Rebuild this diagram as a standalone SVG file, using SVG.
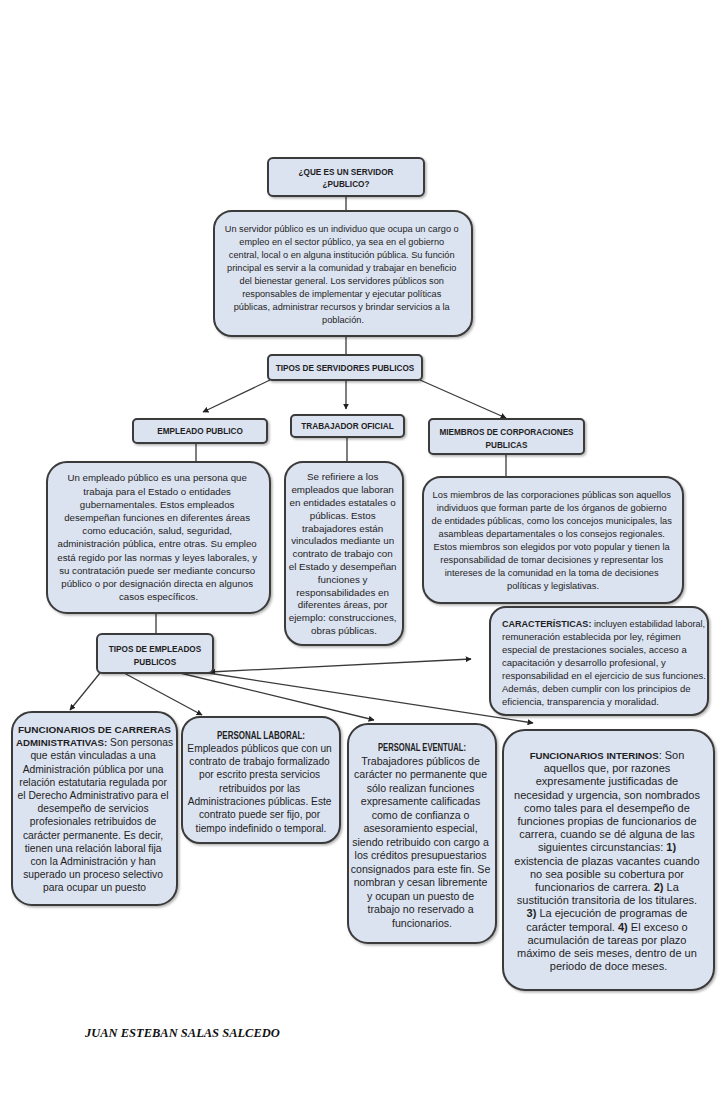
<svg xmlns="http://www.w3.org/2000/svg" width="720" height="1112" viewBox="0 0 720 1112">
<defs>
<style>
.box{fill:#dbe2f0;stroke:#3a3a3a;stroke-width:2;filter:url(#sh)}
.t{font-family:"Liberation Sans",Arial,sans-serif;fill:#1e1e1e;text-anchor:middle}
.l{text-anchor:start}
.b{font-weight:bold}
.h{font-size:8.2px;font-weight:bold}
.c{stroke:#3a3a3a;stroke-width:1.3;fill:none}
.a{marker-end:url(#ah)}
.foot{font-family:"Liberation Serif","Times New Roman",serif;font-weight:bold;font-style:italic;font-size:12.5px;fill:#111}
</style>
<filter id="sh" x="-10%" y="-10%" width="130%" height="130%">
<feDropShadow dx="1.5" dy="1.5" stdDeviation="1" flood-color="#000" flood-opacity="0.3"/>
</filter>
<marker id="ah" viewBox="0 0 10 10" refX="9" refY="5" markerWidth="6" markerHeight="6" markerUnits="userSpaceOnUse" orient="auto">
<path d="M0,0 L10,5 L0,10 z" fill="#222"/>
</marker>
<marker id="as" viewBox="0 0 10 10" refX="1" refY="5" markerWidth="6" markerHeight="6" markerUnits="userSpaceOnUse" orient="auto">
<path d="M10,0 L0,5 L10,10 z" fill="#222"/>
</marker>
</defs>
<rect width="720" height="1112" fill="#ffffff"/>

<g id="connectors">
<line class="c" x1="346" y1="196" x2="346" y2="211"/>
<line class="c" x1="346" y1="336" x2="346" y2="355"/>
<line class="c a" x1="270" y1="380" x2="203" y2="412"/>
<line class="c a" x1="346" y1="380" x2="346" y2="409"/>
<line class="c a" x1="420" y1="380" x2="506" y2="418"/>
<line class="c" x1="196" y1="443" x2="196" y2="462"/>
<line class="c" x1="347" y1="437" x2="347" y2="462"/>
<line class="c" x1="506" y1="454" x2="506" y2="477"/>
<line class="c" x1="156" y1="613" x2="156" y2="634"/>
<line class="c a" x1="100" y1="673" x2="70" y2="710"/>
<line class="c a" x1="124" y1="673" x2="202" y2="715"/>
<line class="c a" x1="180" y1="673" x2="374" y2="720"/>
<line class="c a" x1="210" y1="672" x2="471" y2="659" marker-start="url(#as)"/>
<line class="c a" x1="208" y1="673" x2="533" y2="723"/>
</g>

<g id="n-que-es">
<rect class="box" x="268" y="158" width="156" height="38" rx="5"/>
<text class="t h" x="346" y="175">¿QUE ES UN SERVIDOR</text>
<text class="t h" x="346" y="187">¿PUBLICO?</text>
</g>

<g id="n-definicion">
<rect class="box" x="214" y="211" width="258" height="125" rx="18"/>
<text class="t" font-size="9.2">
<tspan x="343" y="231.5">Un servidor público es un individuo que ocupa un cargo o</tspan>
<tspan x="343" y="244.5">empleo en el sector público, ya sea en el gobierno</tspan>
<tspan x="343" y="257.5">central, local o en alguna institución pública. Su función</tspan>
<tspan x="343" y="270.5">principal es servir a la comunidad y trabajar en beneficio</tspan>
<tspan x="343" y="283.5">del bienestar general. Los servidores públicos son</tspan>
<tspan x="343" y="296.5">responsables de implementar y ejecutar políticas</tspan>
<tspan x="343" y="309.5">públicas, administrar recursos y brindar servicios a la</tspan>
<tspan x="343" y="322.5">población.</tspan>
</text>
</g>

<g id="n-tipos-servidores">
<rect class="box" x="268" y="355" width="154" height="25" rx="4"/>
<text class="t h" x="345" y="370.5" font-size="8">TIPOS DE SERVIDORES PUBLICOS</text>
</g>

<g id="n-empleado">
<rect class="box" x="133" y="419" width="134" height="24" rx="4"/>
<text class="t h" x="200" y="434">EMPLEADO PUBLICO</text>
</g>

<g id="n-trabajador">
<rect class="box" x="291" y="415" width="113" height="22" rx="4"/>
<text class="t h" x="347.5" y="429">TRABAJADOR OFICIAL</text>
</g>

<g id="n-miembros">
<rect class="box" x="429" y="419" width="155" height="35" rx="4"/>
<text class="t h" x="506.5" y="434.5">MIEMBROS DE CORPORACIONES</text>
<text class="t h" x="506.5" y="447.5">PUBLICAS</text>
</g>

<g id="n-empleado-desc">
<rect class="box" x="47" y="462" width="223" height="151" rx="20"/>
<text class="t" font-size="9.7">
<tspan x="158.5" y="481.4">Un empleado público es una persona que</tspan>
<tspan x="158.5" y="494.6">trabaja para el Estado o entidades</tspan>
<tspan x="158.5" y="507.8">gubernamentales. Estos empleados</tspan>
<tspan x="158.5" y="521">desempeñan funciones en diferentes áreas</tspan>
<tspan x="158.5" y="534.2">como educación, salud, seguridad,</tspan>
<tspan x="158.5" y="547.4">administración pública, entre otras. Su empleo</tspan>
<tspan x="158.5" y="560.6">está regido por las normas y leyes laborales, y</tspan>
<tspan x="158.5" y="573.8">su contratación puede ser mediante concurso</tspan>
<tspan x="158.5" y="587">público o por designación directa en algunos</tspan>
<tspan x="158.5" y="600.2">casos específicos.</tspan>
</text>
</g>

<g id="n-trabajador-desc">
<rect class="box" x="285" y="462" width="118" height="183" rx="18"/>
<text class="t" font-size="9.8">
<tspan x="344" y="480.4">Se refiriere a los</tspan>
<tspan x="344" y="493.2">empleados que laboran</tspan>
<tspan x="344" y="506">en entidades estatales o</tspan>
<tspan x="344" y="518.8">públicas. Estos</tspan>
<tspan x="344" y="531.6">trabajadores están</tspan>
<tspan x="344" y="544.4">vinculados mediante un</tspan>
<tspan x="344" y="557.2">contrato de trabajo con</tspan>
<tspan x="344" y="570">el Estado y desempeñan</tspan>
<tspan x="344" y="582.8">funciones y</tspan>
<tspan x="344" y="595.6">responsabilidades en</tspan>
<tspan x="344" y="608.4">diferentes áreas, por</tspan>
<tspan x="344" y="621.2">ejemplo: construcciones,</tspan>
<tspan x="344" y="634">obras públicas.</tspan>
</text>
</g>

<g id="n-miembros-desc">
<rect class="box" x="423" y="477" width="260" height="126" rx="18"/>
<text class="t" font-size="9.3">
<tspan x="553" y="497.8">Los miembros de las corporaciones públicas son aquellos</tspan>
<tspan x="553" y="510.8">individuos que forman parte de los órganos de gobierno</tspan>
<tspan x="553" y="523.8">de entidades públicas, como los concejos municipales, las</tspan>
<tspan x="553" y="536.8">asambleas departamentales o los consejos regionales.</tspan>
<tspan x="553" y="549.8">Estos miembros son elegidos por voto popular y tienen la</tspan>
<tspan x="553" y="562.8">responsabilidad de tomar decisiones y representar los</tspan>
<tspan x="553" y="575.8">intereses de la comunidad en la toma de decisiones</tspan>
<tspan x="553" y="588.8">políticas y legislativas.</tspan>
</text>
</g>

<g id="n-caracteristicas">
<rect class="box" x="490" y="607" width="218" height="108" rx="16"/>
<text class="t l" x="502" y="626.5" font-size="9.5" textLength="203" lengthAdjust="spacingAndGlyphs"><tspan class="b">CARACTERÍSTICAS:</tspan> incluyen estabilidad laboral,</text>
<text class="t l" font-size="9.5">
<tspan x="502" y="639.5">remuneración establecida por ley, régimen</tspan>
<tspan x="502" y="652.5">especial de prestaciones sociales, acceso a</tspan>
<tspan x="502" y="665.5">capacitación y desarrollo profesional, y</tspan>
<tspan x="502" y="678.5">responsabilidad en el ejercicio de sus funciones.</tspan>
<tspan x="502" y="691.5">Además, deben cumplir con los principios de</tspan>
<tspan x="502" y="704.5">eficiencia, transparencia y moralidad.</tspan>
</text>
</g>

<g id="n-tipos-empleados">
<rect class="box" x="97" y="634" width="116" height="39" rx="5"/>
<text class="t h" x="155" y="652">TIPOS DE EMPLEADOS</text>
<text class="t h" x="155" y="665">PUBLICOS</text>
</g>

<g id="n-carreras">
<rect class="box" x="12" y="712" width="165" height="193" rx="20"/>
<text class="t b" x="94.5" y="733" font-size="9.8" textLength="153" lengthAdjust="spacingAndGlyphs">FUNCIONARIOS DE CARRERAS</text>
<text class="t" x="94.5" y="746.2" font-size="10.3" textLength="157" lengthAdjust="spacingAndGlyphs"><tspan class="b" font-size="9.8">ADMINISTRATIVAS:</tspan> Son personas</text>
<text class="t" font-size="10.3">
<tspan x="94.5" y="759.4">que están vinculadas a una</tspan>
<tspan x="94.5" y="772.6">Administración pública por una</tspan>
<tspan x="94.5" y="785.8">relación estatutaria regulada por</tspan>
<tspan x="94.5" y="799">el Derecho Administrativo para el</tspan>
<tspan x="94.5" y="812.2">desempeño de servicios</tspan>
<tspan x="94.5" y="825.4">profesionales retribuidos de</tspan>
<tspan x="94.5" y="838.6">carácter permanente. Es decir,</tspan>
<tspan x="94.5" y="851.8">tienen una relación laboral fija</tspan>
<tspan x="94.5" y="865">con la Administración y han</tspan>
<tspan x="94.5" y="878.2">superado un proceso selectivo</tspan>
<tspan x="94.5" y="891.4">para ocupar un puesto</tspan>
</text>
</g>

<g id="n-laboral">
<rect class="box" x="182" y="717" width="158" height="126" rx="18"/>
<text class="t b" x="261" y="738.5" font-size="10" textLength="88" lengthAdjust="spacingAndGlyphs">PERSONAL LABORAL:</text>
<text class="t" font-size="10.2">
<tspan x="261" y="751.8">Empleados públicos que con un</tspan>
<tspan x="261" y="765.1">contrato de trabajo formalizado</tspan>
<tspan x="261" y="778.4">por escrito presta servicios</tspan>
<tspan x="261" y="791.7">retribuidos por las</tspan>
<tspan x="261" y="805">Administraciones públicas. Este</tspan>
<tspan x="261" y="818.3">contrato puede ser fijo, por</tspan>
<tspan x="261" y="831.6">tiempo indefinido o temporal.</tspan>
</text>
</g>

<g id="n-eventual">
<rect class="box" x="348" y="724" width="148" height="219" rx="20"/>
<text class="t b" x="422" y="751.2" font-size="10.3" textLength="88" lengthAdjust="spacingAndGlyphs">PERSONAL EVENTUAL:</text>
<text class="t" font-size="10.6">
<tspan x="422" y="764.7">Trabajadores públicos de</tspan>
<tspan x="422" y="778.2">carácter no permanente que</tspan>
<tspan x="422" y="791.7">sólo realizan funciones</tspan>
<tspan x="422" y="805.2">expresamente calificadas</tspan>
<tspan x="422" y="818.7">como de confianza o</tspan>
<tspan x="422" y="832.2">asesoramiento especial,</tspan>
<tspan x="422" y="845.7">siendo retribuido con cargo a</tspan>
<tspan x="422" y="859.2">los créditos presupuestarios</tspan>
<tspan x="422" y="872.7">consignados para este fin. Se</tspan>
<tspan x="422" y="886.2">nombran y cesan libremente</tspan>
<tspan x="422" y="899.7">y ocupan un puesto de</tspan>
<tspan x="422" y="913.2">trabajo no reservado a</tspan>
<tspan x="422" y="926.7">funcionarios.</tspan>
</text>
</g>

<g id="n-interinos">
<rect class="box" x="503" y="730" width="211" height="260" rx="22"/>
<text class="t" font-size="11">
<tspan x="608.5" y="759"><tspan class="b" font-size="9.6">FUNCIONARIOS INTERINOS</tspan>: Son</tspan>
<tspan x="608.5" y="772.2">aquellos que, por razones</tspan>
<tspan x="608.5" y="785.4">expresamente justificadas de</tspan>
<tspan x="608.5" y="798.6">necesidad y urgencia, son nombrados</tspan>
<tspan x="608.5" y="811.8">como tales para el desempeño de</tspan>
<tspan x="608.5" y="825">funciones propias de funcionarios de</tspan>
<tspan x="608.5" y="838.2">carrera, cuando se dé alguna de las</tspan>
<tspan x="608.5" y="851.4">siguientes circunstancias: <tspan class="b">1)</tspan></tspan>
<tspan x="608.5" y="864.6">existencia de plazas vacantes cuando</tspan>
<tspan x="608.5" y="877.8">no sea posible su cobertura por</tspan>
<tspan x="608.5" y="891">funcionarios de carrera. <tspan class="b">2)</tspan> La</tspan>
<tspan x="608.5" y="904.2">sustitución transitoria de los titulares.</tspan>
<tspan x="608.5" y="917.4"><tspan class="b">3)</tspan> La ejecución de programas de</tspan>
<tspan x="608.5" y="930.6">carácter temporal. <tspan class="b">4)</tspan> El exceso o</tspan>
<tspan x="608.5" y="943.8">acumulación de tareas por plazo</tspan>
<tspan x="608.5" y="957">máximo de seis meses, dentro de un</tspan>
<tspan x="608.5" y="970.2">periodo de doce meses.</tspan>
</text>
</g>

<text class="foot" x="85" y="1037">JUAN ESTEBAN SALAS SALCEDO</text>
</svg>
